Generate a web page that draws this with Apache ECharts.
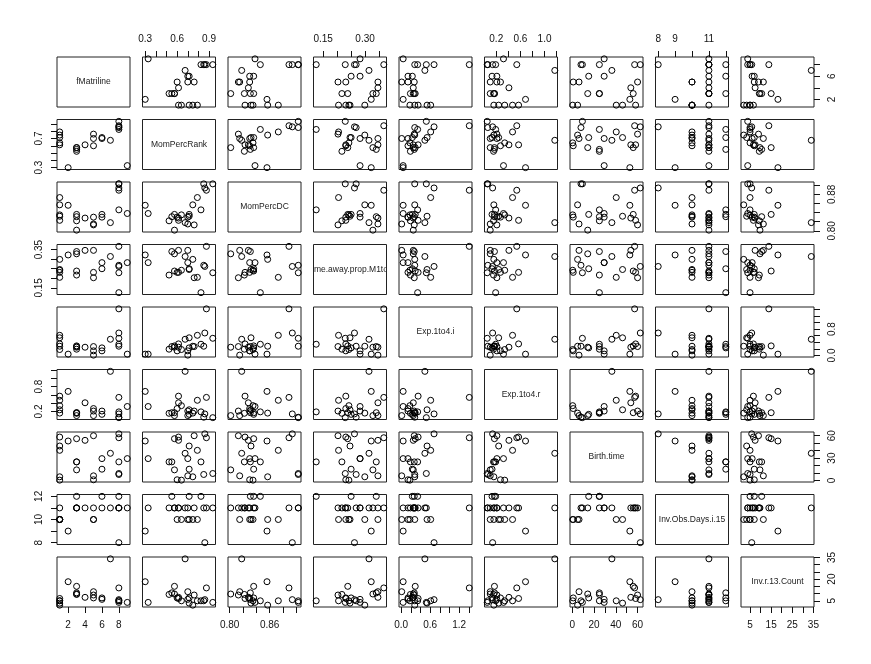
<!DOCTYPE html>
<html lang="en">
<head>
    <meta charset="UTF-8">
    <title>pairs</title>
    <script src="https://cdn.jsdelivr.net/npm/echarts@6/dist/echarts.min.js"></script>
    <style>
        html, body { margin: 0; padding: 0; background: #fff; }
        #main { width: 871px; height: 664px; }
    </style>
</head>
<body>
    <div id="main"></div>
    <script>
        // variable names (diagonal)
        var varNames = ['fMatriline', 'MomPercRank', 'MomPercDC', 'time.away.prop.M1tot', 'Exp.1to4.i',
            'Exp.1to4.r', 'Birth.time', 'Inv.Obs.Days.i.15', 'Inv.r.13.Count'];

        // one value per individual, same order in every array
        var fMatriline = [8, 5, 1, 8, 3, 4, 2, 1, 1, 7, 6, 9, 3, 3, 8, 6, 3, 8, 8, 5, 1, 5, 1];
        var momPercRank = [0.86, 0.76, 0.613, 0.875, 0.575, 0.613, 0.30, 0.713, 0.79, 0.675, 0.70, 0.328, 0.524, 0.55, 0.824, 0.713, 0.575, 0.935, 0.85, 0.70, 0.747, 0.60, 0.64];
        var momPercDC = [0.894, 0.813, 0.823, 0.889, 0.836, 0.828, 0.856, 0.832, 0.873, 0.818, 0.830, 0.838, 0.822, 0.831, 0.846, 0.836, 0.8015, 0.903, 0.903, 0.815, 0.857, 0.830, 0.835];
        var timeAway = [0.262, 0.203, 0.231, 0.367, 0.238, 0.346, 0.322, 0.246, 0.205, 0.314, 0.282, 0.282, 0.217, 0.340, 0.125, 0.25, 0.328, 0.229, 0.268, 0.346, 0.299, 0.231, 0.242];
        var exp1to4i = [0.68, 0.27, 0.35, 1.41, 0.29, 0.25, 0.04, 0.535, 0.61, 0.49, 0.14, 0.04, 0.19, 0.27, 0.34, 0.23, 0.25, 0.52, 0.28, 0.01, 0.28, 0.14, 0.18];
        var exp1to4r = [0.14, 0.21, 0.57, 0.54, 0.17, 0.41, 0.685, 0.24, 0.47, 1.17, 0.21, 0.32, 0.155, 0.17, 0.19, 0.13, 0.10, 0.05, 0.06, 0.10, 0.16, 0.27, 0.34];
        var birthTime = [62.5, 60.0, 58.2, 57.3, 56.0, 53.8, 52.9, 46.2, 40.4, 36.4, 29.3, 29.3, 24.9, 24.9, 24.9, 15.1, 14.2, 9.3, 8.0, 6.2, 4.9, 0.9, 0.4];
        var invObsDays = [8, 11, 11, 11, 11, 11, 9, 10, 10, 11, 11, 11, 11, 12, 12, 12, 11, 11, 11, 10, 10, 10, 10];
        var invCount = [5.8, 9, 6.6, 13.9, 15, 7.4, 18.2, 3.4, 5, 34, 6, 3.9, 9.4, 10.5, 5, 7, 9.7, 3.9, 5, 11.3, 2, 7, 5];

        // tick marks, and which of them get a label (top/bottom, left/right)
        var ticks = [
            [2, 4, 6, 8],
            [0.3, 0.4, 0.5, 0.6, 0.7, 0.8, 0.9],
            [0.80, 0.82, 0.84, 0.86, 0.88, 0.90],
            [0.15, 0.20, 0.25, 0.30, 0.35],
            [0, 0.2, 0.4, 0.6, 0.8, 1.0, 1.2, 1.4],
            [0.2, 0.4, 0.6, 0.8, 1.0, 1.2],
            [0, 10, 20, 30, 40, 50, 60],
            [8, 9, 10, 11, 12],
            [5, 10, 15, 20, 25, 30, 35]
        ];
        var labelsX = [[2, 4, 6, 8], [0.3, 0.6, 0.9], [0.80, 0.86], [0.15, 0.30], [0, 0.6, 1.2],
            [0.2, 0.6, 1.0], [0, 20, 40, 60], [8, 9, 11], [5, 15, 25, 35]];
        var labelsY = [[2, 6], [0.3, 0.7], [0.80, 0.88], [0.15, 0.35], [0, 0.8],
            [0.2, 0.8], [0, 30, 60], [8, 10, 12], [5, 20, 35]];
        var decimals = [0, 1, 2, 2, 1, 1, 0, 0, 0];

        var cols = [fMatriline, momPercRank, momPercDC, timeAway, exp1to4i, exp1to4r, birthTime, invObsDays, invCount];
        var nv = cols.length;

        // R style range: data range + 4% each side
        var ranges = cols.map(function(c) {
            var lo = Math.min.apply(null, c), hi = Math.max.apply(null, c);
            var pad = (hi - lo) * 0.04;
            return [lo - pad, hi + pad];
        });

        // note: no global named "top" (window.top is read-only)
        var panelW = 73, panelH = 50, x0 = 57, y0 = 57, dx = 85.5, dy = 62.5;
        var txt = '#111';
        var font = 'Liberation Sans';

        function axisOpt(v, k, showIt, pos, labels, rotate) {
            var o = {
                type: 'value',
                gridIndex: k,
                position: pos,
                min: ranges[v][0],
                max: ranges[v][1],
                axisLine: { show: false },
                splitLine: { show: false },
                axisTick: { show: false },
                axisLabel: { show: false }
            };
            if (showIt) {
                o.axisTick = {
                    show: true,
                    inside: false,
                    length: 6,
                    customValues: ticks[v].slice(),
                    lineStyle: { color: txt, width: 1 }
                };
                o.axisLabel = {
                    show: true,
                    customValues: labels.slice(),
                    margin: 13,
                    rotate: rotate,
                    color: txt,
                    fontSize: 10,
                    fontFamily: font,
                    formatter: function(val) { return Number(val).toFixed(decimals[v]); }
                };
            }
            return o;
        }

        var grids = [], xAxes = [], yAxes = [], series = [], graphics = [];
        for (var i = 0; i < nv; i++) {
            for (var j = 0; j < nv; j++) {
                var k = grids.length;
                var gx = x0 + j * dx, gy = y0 + i * dy;
                grids.push({
                    left: gx, top: gy, width: panelW, height: panelH,
                    show: true, borderColor: '#222', borderWidth: 1
                });
                var showTop = (i === 0 && j % 2 === 1);
                var showBottom = (i === nv - 1 && j % 2 === 0);
                var showLeft = (j === 0 && i % 2 === 1);
                var showRight = (j === nv - 1 && i % 2 === 0);
                xAxes.push(axisOpt(j, k, showTop || showBottom, showTop ? 'top' : 'bottom', labelsX[j], 0));
                yAxes.push(axisOpt(i, k, showLeft || showRight, showRight ? 'right' : 'left', labelsY[i], 90));

                if (i === j) {
                    graphics.push({
                        type: 'text',
                        x: gx + panelW / 2,
                        y: gy + panelH / 2,
                        z: 10,
                        style: {
                            text: varNames[i],
                            textAlign: 'center',
                            textVerticalAlign: 'middle',
                            font: '8.5px "' + font + '"',
                            fill: '#222'
                        }
                    });
                    continue;
                }
                var pts = [];
                for (var r = 0; r < cols[i].length; r++) {
                    pts.push([cols[j][r], cols[i][r]]);
                }
                series.push({
                    type: 'scatter',
                    xAxisIndex: k,
                    yAxisIndex: k,
                    data: pts,
                    symbol: 'circle',
                    symbolSize: 6,
                    silent: true,
                    itemStyle: { color: 'rgba(0,0,0,0)', borderColor: '#000', borderWidth: 1, opacity: 1 }
                });
            }
        }

        // the long diagonal name is clipped by its panel, as in R
        var cl = x0 + 3 * dx, ct = y0 + 3 * dy;
        graphics.push({ type: 'rect', z: 20, shape: { x: cl - 11.5, y: ct - 2, width: 11, height: panelH + 4 }, style: { fill: '#fff' } });
        graphics.push({ type: 'rect', z: 20, shape: { x: cl + panelW + 0.5, y: ct - 2, width: 11, height: panelH + 4 }, style: { fill: '#fff' } });

        var myChart = echarts.init(document.getElementById('main'));
        myChart.setOption({
            animation: false,
            backgroundColor: '#fff',
            grid: grids,
            xAxis: xAxes,
            yAxis: yAxes,
            series: series,
            graphic: graphics
        });
    </script>
</body>
</html>
